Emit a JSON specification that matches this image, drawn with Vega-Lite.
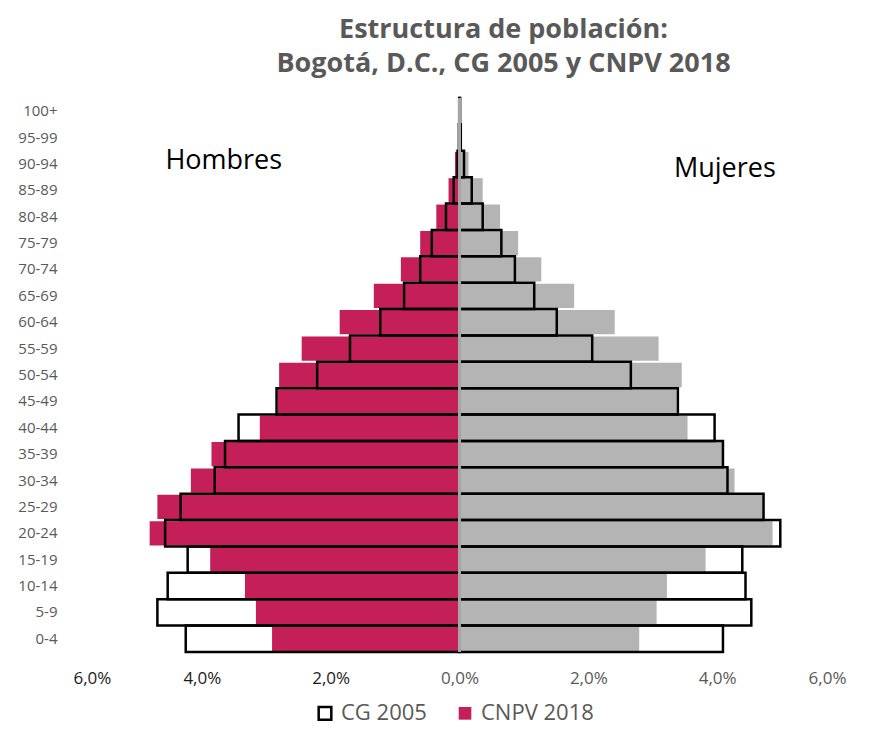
{
  "$schema": "https://vega.github.io/schema/vega-lite/v6.json",
  "width": 773,
  "height": 554,
  "autosize": {"type": "none"},
  "padding": {"left": 73, "top": 98, "right": 30, "bottom": 87},
  "background": "white",
  "config": {
    "view": {"stroke": null},
    "font": "Open Sans"
  },
  "title": {
    "text": ["Estructura de población:", "Bogotá, D.C., CG 2005 y CNPV 2018"],
    "font": "Open Sans",
    "fontSize": 27,
    "fontWeight": "bold",
    "color": "#595959",
    "anchor": "middle",
    "dx": 44,
    "offset": 19,
    "lineHeight": 34
  },
  "data": {
    "values": [
      {"edad": "0-4", "sexo": "Hombres", "serie": "CNPV 2018", "valor": -2.91},
      {"edad": "5-9", "sexo": "Hombres", "serie": "CNPV 2018", "valor": -3.16},
      {"edad": "10-14", "sexo": "Hombres", "serie": "CNPV 2018", "valor": -3.33},
      {"edad": "15-19", "sexo": "Hombres", "serie": "CNPV 2018", "valor": -3.87},
      {"edad": "20-24", "sexo": "Hombres", "serie": "CNPV 2018", "valor": -4.81},
      {"edad": "25-29", "sexo": "Hombres", "serie": "CNPV 2018", "valor": -4.69},
      {"edad": "30-34", "sexo": "Hombres", "serie": "CNPV 2018", "valor": -4.17},
      {"edad": "35-39", "sexo": "Hombres", "serie": "CNPV 2018", "valor": -3.85},
      {"edad": "40-44", "sexo": "Hombres", "serie": "CNPV 2018", "valor": -3.10},
      {"edad": "45-49", "sexo": "Hombres", "serie": "CNPV 2018", "valor": -2.82},
      {"edad": "50-54", "sexo": "Hombres", "serie": "CNPV 2018", "valor": -2.80},
      {"edad": "55-59", "sexo": "Hombres", "serie": "CNPV 2018", "valor": -2.45},
      {"edad": "60-64", "sexo": "Hombres", "serie": "CNPV 2018", "valor": -1.86},
      {"edad": "65-69", "sexo": "Hombres", "serie": "CNPV 2018", "valor": -1.33},
      {"edad": "70-74", "sexo": "Hombres", "serie": "CNPV 2018", "valor": -0.91},
      {"edad": "75-79", "sexo": "Hombres", "serie": "CNPV 2018", "valor": -0.61},
      {"edad": "80-84", "sexo": "Hombres", "serie": "CNPV 2018", "valor": -0.36},
      {"edad": "85-89", "sexo": "Hombres", "serie": "CNPV 2018", "valor": -0.17},
      {"edad": "90-94", "sexo": "Hombres", "serie": "CNPV 2018", "valor": -0.07},
      {"edad": "95-99", "sexo": "Hombres", "serie": "CNPV 2018", "valor": -0.02},
      {"edad": "100+", "sexo": "Hombres", "serie": "CNPV 2018", "valor": -0.005},
      {"edad": "0-4", "sexo": "Mujeres", "serie": "CNPV 2018", "valor": 2.79},
      {"edad": "5-9", "sexo": "Mujeres", "serie": "CNPV 2018", "valor": 3.06},
      {"edad": "10-14", "sexo": "Mujeres", "serie": "CNPV 2018", "valor": 3.22},
      {"edad": "15-19", "sexo": "Mujeres", "serie": "CNPV 2018", "valor": 3.82},
      {"edad": "20-24", "sexo": "Mujeres", "serie": "CNPV 2018", "valor": 4.86},
      {"edad": "25-29", "sexo": "Mujeres", "serie": "CNPV 2018", "valor": 4.71},
      {"edad": "30-34", "sexo": "Mujeres", "serie": "CNPV 2018", "valor": 4.27},
      {"edad": "35-39", "sexo": "Mujeres", "serie": "CNPV 2018", "valor": 4.08},
      {"edad": "40-44", "sexo": "Mujeres", "serie": "CNPV 2018", "valor": 3.54},
      {"edad": "45-49", "sexo": "Mujeres", "serie": "CNPV 2018", "valor": 3.37},
      {"edad": "50-54", "sexo": "Mujeres", "serie": "CNPV 2018", "valor": 3.45},
      {"edad": "55-59", "sexo": "Mujeres", "serie": "CNPV 2018", "valor": 3.09},
      {"edad": "60-64", "sexo": "Mujeres", "serie": "CNPV 2018", "valor": 2.41},
      {"edad": "65-69", "sexo": "Mujeres", "serie": "CNPV 2018", "valor": 1.78},
      {"edad": "70-74", "sexo": "Mujeres", "serie": "CNPV 2018", "valor": 1.27},
      {"edad": "75-79", "sexo": "Mujeres", "serie": "CNPV 2018", "valor": 0.91},
      {"edad": "80-84", "sexo": "Mujeres", "serie": "CNPV 2018", "valor": 0.63},
      {"edad": "85-89", "sexo": "Mujeres", "serie": "CNPV 2018", "valor": 0.36},
      {"edad": "90-94", "sexo": "Mujeres", "serie": "CNPV 2018", "valor": 0.14},
      {"edad": "95-99", "sexo": "Mujeres", "serie": "CNPV 2018", "valor": 0.04},
      {"edad": "100+", "sexo": "Mujeres", "serie": "CNPV 2018", "valor": 0.01},
      {"edad": "0-4", "sexo": "Hombres", "serie": "CG 2005", "valor": -4.25},
      {"edad": "5-9", "sexo": "Hombres", "serie": "CG 2005", "valor": -4.69},
      {"edad": "10-14", "sexo": "Hombres", "serie": "CG 2005", "valor": -4.53},
      {"edad": "15-19", "sexo": "Hombres", "serie": "CG 2005", "valor": -4.22},
      {"edad": "20-24", "sexo": "Hombres", "serie": "CG 2005", "valor": -4.57},
      {"edad": "25-29", "sexo": "Hombres", "serie": "CG 2005", "valor": -4.33},
      {"edad": "30-34", "sexo": "Hombres", "serie": "CG 2005", "valor": -3.80},
      {"edad": "35-39", "sexo": "Hombres", "serie": "CG 2005", "valor": -3.64},
      {"edad": "40-44", "sexo": "Hombres", "serie": "CG 2005", "valor": -3.43},
      {"edad": "45-49", "sexo": "Hombres", "serie": "CG 2005", "valor": -2.84},
      {"edad": "50-54", "sexo": "Hombres", "serie": "CG 2005", "valor": -2.21},
      {"edad": "55-59", "sexo": "Hombres", "serie": "CG 2005", "valor": -1.70},
      {"edad": "60-64", "sexo": "Hombres", "serie": "CG 2005", "valor": -1.23},
      {"edad": "65-69", "sexo": "Hombres", "serie": "CG 2005", "valor": -0.86},
      {"edad": "70-74", "sexo": "Hombres", "serie": "CG 2005", "valor": -0.61},
      {"edad": "75-79", "sexo": "Hombres", "serie": "CG 2005", "valor": -0.43},
      {"edad": "80-84", "sexo": "Hombres", "serie": "CG 2005", "valor": -0.21},
      {"edad": "85-89", "sexo": "Hombres", "serie": "CG 2005", "valor": -0.09},
      {"edad": "90-94", "sexo": "Hombres", "serie": "CG 2005", "valor": -0.03},
      {"edad": "95-99", "sexo": "Hombres", "serie": "CG 2005", "valor": -0.01},
      {"edad": "100+", "sexo": "Hombres", "serie": "CG 2005", "valor": -0.005},
      {"edad": "0-4", "sexo": "Mujeres", "serie": "CG 2005", "valor": 4.09},
      {"edad": "5-9", "sexo": "Mujeres", "serie": "CG 2005", "valor": 4.53},
      {"edad": "10-14", "sexo": "Mujeres", "serie": "CG 2005", "valor": 4.44},
      {"edad": "15-19", "sexo": "Mujeres", "serie": "CG 2005", "valor": 4.39},
      {"edad": "20-24", "sexo": "Mujeres", "serie": "CG 2005", "valor": 4.98},
      {"edad": "25-29", "sexo": "Mujeres", "serie": "CG 2005", "valor": 4.72},
      {"edad": "30-34", "sexo": "Mujeres", "serie": "CG 2005", "valor": 4.16},
      {"edad": "35-39", "sexo": "Mujeres", "serie": "CG 2005", "valor": 4.09},
      {"edad": "40-44", "sexo": "Mujeres", "serie": "CG 2005", "valor": 3.96},
      {"edad": "45-49", "sexo": "Mujeres", "serie": "CG 2005", "valor": 3.39},
      {"edad": "50-54", "sexo": "Mujeres", "serie": "CG 2005", "valor": 2.66},
      {"edad": "55-59", "sexo": "Mujeres", "serie": "CG 2005", "valor": 2.06},
      {"edad": "60-64", "sexo": "Mujeres", "serie": "CG 2005", "valor": 1.51},
      {"edad": "65-69", "sexo": "Mujeres", "serie": "CG 2005", "valor": 1.16},
      {"edad": "70-74", "sexo": "Mujeres", "serie": "CG 2005", "valor": 0.86},
      {"edad": "75-79", "sexo": "Mujeres", "serie": "CG 2005", "valor": 0.65},
      {"edad": "80-84", "sexo": "Mujeres", "serie": "CG 2005", "valor": 0.36},
      {"edad": "85-89", "sexo": "Mujeres", "serie": "CG 2005", "valor": 0.19},
      {"edad": "90-94", "sexo": "Mujeres", "serie": "CG 2005", "valor": 0.07},
      {"edad": "95-99", "sexo": "Mujeres", "serie": "CG 2005", "valor": 0.02},
      {"edad": "100+", "sexo": "Mujeres", "serie": "CG 2005", "valor": 0.01}
    ]
  },
  "layer": [
    {
      "transform": [{"filter": "datum.serie === 'CNPV 2018'"}],
      "mark": {"type": "bar", "height": {"band": 0.92}},
      "encoding": {
        "y": {
          "field": "edad", "type": "nominal",
          "scale": {
            "domain": ["100+", "95-99", "90-94", "85-89", "80-84", "75-79", "70-74", "65-69", "60-64", "55-59", "50-54", "45-49", "40-44", "35-39", "30-34", "25-29", "20-24", "15-19", "10-14", "5-9", "0-4"],
            "paddingInner": 0, "paddingOuter": 0
          },
          "axis": {
            "title": null, "domain": false, "ticks": false, "grid": false,
            "labelPadding": 16, "labelFontSize": 15, "labelFont": "Open Sans", "labelColor": "#595959"
          }
        },
        "x": {
          "field": "valor", "type": "quantitative",
          "scale": {"domain": [-6, 6], "nice": false},
          "axis": {
            "title": null, "domain": false, "ticks": false, "grid": false,
            "values": [-6, -4, -2, 0, 2, 4, 6],
            "labelExpr": "replace(format(abs(datum.value), '.1f'), '.', ',') + '%'",
            "labelFontSize": 17, "labelFont": "Open Sans", "labelPadding": 18,
            "labelColor": {"condition": {"test": "datum.value < 0", "value": "#1a1a1a"}, "value": "#595959"}
          }
        },
        "fill": {
          "condition": {"test": "datum.sexo === 'Mujeres'", "value": "#b4b4b4"},
          "field": "serie", "type": "nominal",
          "scale": {"domain": ["CG 2005", "CNPV 2018"], "range": ["rgba(255,255,255,0)", "#c51f5a"]},
          "legend": {
            "title": null, "orient": "none", "legendX": 241, "legendY": 604,
            "direction": "horizontal", "symbolType": "square", "symbolSize": 160,
            "symbolStrokeWidth": 2.5, "labelFontSize": 22, "labelFont": "Open Sans",
            "labelColor": "#595959", "columnPadding": 26, "labelOffset": 5
          }
        }
      }
    },
    {
      "transform": [{"filter": "datum.serie === 'CG 2005'"}],
      "mark": {"type": "bar", "strokeWidth": 2.5},
      "encoding": {
        "y": {"field": "edad", "type": "nominal"},
        "x": {"field": "valor", "type": "quantitative"},
        "fill": {"field": "serie", "type": "nominal"},
        "stroke": {
          "field": "serie", "type": "nominal",
          "scale": {"domain": ["CG 2005", "CNPV 2018"], "range": ["#000000", "rgba(0,0,0,0)"]},
          "legend": {
            "title": null, "orient": "none", "legendX": 241, "legendY": 604,
            "direction": "horizontal", "symbolType": "square", "symbolSize": 160,
            "symbolStrokeWidth": 2.5, "labelFontSize": 22, "labelFont": "Open Sans",
            "labelColor": "#595959", "columnPadding": 26, "labelOffset": 5
          }
        }
      }
    },
    {
      "mark": {"type": "rule", "color": "#a6a6a6", "strokeWidth": 1.5},
      "encoding": {"x": {"datum": 0}}
    },
    {
      "data": {"values": [{"etiqueta": "Hombres", "posicion": -3.66, "edad": "90-94"}]},
      "mark": {"type": "text", "fontSize": 27, "font": "Open Sans", "color": "#000000", "align": "center", "baseline": "alphabetic", "dy": 5},
      "encoding": {
        "text": {"field": "etiqueta"},
        "x": {"field": "posicion", "type": "quantitative"},
        "y": {"field": "edad", "type": "nominal"}
      }
    },
    {
      "data": {"values": [{"etiqueta": "Mujeres", "posicion": 4.12, "edad": "90-94"}]},
      "mark": {"type": "text", "fontSize": 27, "font": "Open Sans", "color": "#000000", "align": "center", "baseline": "alphabetic", "dy": 13},
      "encoding": {
        "text": {"field": "etiqueta"},
        "x": {"field": "posicion", "type": "quantitative"},
        "y": {"field": "edad", "type": "nominal"}
      }
    }
  ]
}
